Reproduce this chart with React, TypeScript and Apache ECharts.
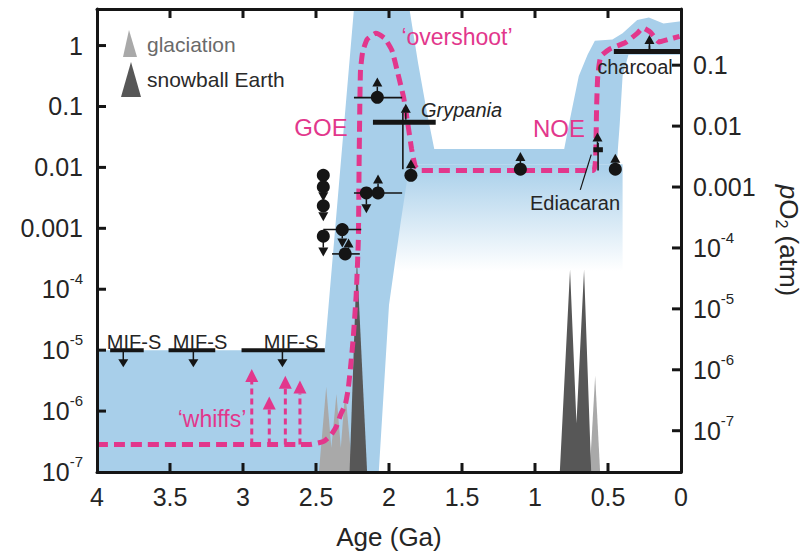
import React, { useEffect, useRef } from "react";
import * as echarts from "echarts";

// ---------- data (age in Ga, values as log10 of PAL) ----------
const AGE_TICKS = [0, 0.5, 1, 1.5, 2, 2.5, 3, 3.5, 4];
const PAL_TICKS = [-7, -6, -5, -4, -3, -2, -1, 0];
const ATM_TICKS = [-7, -6, -5, -4, -3, -2, -1];
const PAL_TO_ATM = 0.21;
const Y_MIN = -7;
const Y_MAX = 0.6;

// dashed model history
const MODEL: number[][] = [
  [4.0, -6.55], [2.55, -6.55], [2.45, -6.5], [2.40, -6.4], [2.36, -6.25], [2.33, -6.05],
  [2.30, -5.9], [2.28, -5.65], [2.26, -5.2], [2.245, -4.8], [2.225, -4.1], [2.21, -3.2],
  [2.205, -2.0], [2.20, -1.0], [2.195, -0.4], [2.18, -0.1], [2.15, 0.1], [2.09, 0.2],
  [2.03, 0.12], [1.98, -0.08], [1.94, -0.45], [1.90, -0.85], [1.87, -1.3], [1.845, -1.7],
  [1.82, -1.98], [1.79, -2.05], [0.60, -2.05], [0.585, -1.85], [0.578, -1.0],
  [0.57, -0.5], [0.55, -0.18], [0.49, -0.06], [0.38, 0.05], [0.30, 0.2], [0.26, 0.29],
  [0.21, 0.22], [0.15, 0.06], [0.09, 0.1], [0.01, 0.15],
];

// uncertainty envelope (solid part)
const BAND: number[][] = [
  [4.0, -7], [4.0, -5], [2.44, -5], [2.24, 0.6], [1.86, 0.6], [1.80, -0.3], [1.74, -1.1],
  [1.69, -1.7], [0.80, -1.7], [0.76, -1.2], [0.70, -0.5], [0.64, -0.15], [0.59, 0.08],
  [0.47, 0.1], [0.40, 0.2], [0.30, 0.42], [0.22, 0.46], [0.12, 0.36], [0, 0.4],
  [0, -0.15], [0.36, -0.15], [0.40, -0.5], [0.42, -1.3], [0.44, -1.95], [1.86, -1.95],
  [1.92, -2.9], [2.0, -4.26], [2.07, -7],
];
// envelope fading out below the mid-Proterozoic plateau
const BAND_FADE: number[][] = [[0.40, -1.95], [1.95, -1.95], [1.95, -3.7], [0.40, -3.7]];

const GLACIATION: number[][][] = [
  [[2.48, -7], [2.43, -5.6], [2.395, -6.6], [2.36, -5.72], [2.33, -6.6], [2.30, -5.66], [2.25, -7]],
  [[0.625, -7], [0.588, -5.42], [0.554, -7]],
];
const SNOWBALL: number[][][] = [
  [[2.27, -7], [2.22, -3.5], [2.15, -7]],
  [[0.83, -7], [0.76, -3.68], [0.716, -6.2], [0.664, -3.68], [0.615, -7]],
];

const WHIFF_BASE = -6.55;
const WHIFFS: number[][] = [[2.94, -5.31], [2.82, -5.76], [2.71, -5.42], [2.61, -5.5]];

const CIRCLES: number[][] = [
  [2.45, -2.13], [2.45, -2.32], [2.45, -2.63], [2.45, -3.13], [2.32, -3.02], [2.30, -3.42],
  [2.155, -2.42], [2.075, -2.42], [2.08, -0.85], [1.85, -2.13], [1.10, -2.03], [0.45, -2.03],
];
// [age, log, direction (1 up / -1 down)]
const ARROWS: number[][] = [
  [2.08, -0.6, 1], [2.075, -2.19, 1], [2.277, -3.24, 1], [1.85, -1.94, 1], [1.885, -1.03, 1],
  [1.10, -1.82, 1], [0.45, -1.85, 1], [0.572, -1.5, 1], [0.216, 0.1, 1],
  [2.45, -2.48, -1], [2.45, -2.81, -1], [2.45, -3.39, -1], [2.32, -3.24, -1], [2.155, -2.68, -1],
];
// [age from, age to, log]
const ERROR_BARS: number[][] = [
  [2.24, 1.91, -0.855], [2.45, 2.19, -3.02], [2.39, 2.20, -3.42], [2.24, 1.91, -2.42],
];
const THICK_BARS: number[][] = [[2.11, 1.68, -1.26], [0.46, 0, -0.097], [0.60, 0.535, -1.71]];
// [age, log from, log to]
const V_LINES: number[][] = [[1.905, -1.1, -2.03], [0.568, -1.6, -2.05], [0.216, 0.0, -0.097]];
const LEADER: number[][] = [[0.615, -1.79, 0.69, -2.37]];

const MIF_S_LEVEL = -5;
const MIF_S_BARS: number[][] = [[3.91, 3.68], [3.51, 3.19], [3.01, 2.44]];
const MIF_S_ARROWS: number[] = [3.82, 3.34, 2.73];

// ---------- styling ----------
const BLUE = "#a8cfea";
const MAGENTA = "#e2378c";
const INK = "#151515";
const TXT = "#252525";
const FONT = "Liberation Sans, Arial, sans-serif";

const palLabel = (v: number) => {
  const r = Math.round(v);
  if (r === 0) return "{b|1}";
  if (r === -1) return "{b|0.1}";
  if (r === -2) return "{b|0.01}";
  if (r === -3) return "{b|0.001}";
  return `{b|10}{s|${r}}`;
};
const rich = {
  b: { fontSize: 25, color: TXT, fontFamily: FONT, lineHeight: 36 },
  s: { fontSize: 15, color: TXT, fontFamily: FONT, verticalAlign: "top", lineHeight: 18 },
};

function polySeries(points: number[][], fill: any, z: number) {
  return {
    type: "custom",
    z,
    silent: true,
    clip: true,
    data: [points[0]],
    renderItem: (_p: any, api: any) => ({
      type: "polygon",
      shape: { points: points.map((p) => api.coord(p)) },
      style: { fill },
    }),
  };
}

export default function App() {
  const ref = useRef<HTMLDivElement>(null);
  useEffect(() => {
    document.body.style.margin = "0";
    const chart = echarts.init(ref.current!, null, { renderer: "svg" });
    const lg = Math.log10(PAL_TO_ATM);
    const axisLine = { show: true, onZero: false, lineStyle: { color: INK, width: 3 } };
    const tick = { show: false };

    const series: any[] = [];
    series.push(
      polySeries(BAND_FADE, new echarts.graphic.LinearGradient(0, 0, 0, 1, [
        { offset: 0, color: BLUE },
        { offset: 0.25, color: "rgba(168,207,234,0.75)" },
        { offset: 1, color: "rgba(168,207,234,0)" },
      ]), 1)
    );
    series.push(polySeries(BAND, BLUE, 2));
    GLACIATION.forEach((g) => series.push(polySeries(g, "#a9a9a9", 3)));
    SNOWBALL.forEach((g) => series.push(polySeries(g, "#575757", 4)));

    series.push({
      type: "line",
      z: 5,
      data: MODEL,
      showSymbol: false,
      smooth: 0.15,
      silent: true,
      lineStyle: { color: MAGENTA, width: 5, type: [11, 6], cap: "butt" },
    });

    series.push({
      type: "custom",
      z: 5,
      silent: true,
      data: WHIFFS,
      renderItem: (_p: any, api: any) => {
        const age = api.value(0);
        const tip = api.coord([age, api.value(1)]);
        const base = api.coord([age, WHIFF_BASE]);
        const h = 13, w = 6.5;
        return {
          type: "group",
          children: [
            { type: "line", shape: { x1: tip[0], y1: base[1], x2: tip[0], y2: tip[1] + h }, style: { stroke: MAGENTA, lineWidth: 3, lineDash: [6, 4] } },
            { type: "polygon", shape: { points: [[tip[0], tip[1]], [tip[0] - w, tip[1] + h], [tip[0] + w, tip[1] + h]] }, style: { fill: MAGENTA } },
          ],
        };
      },
    });

    // horizontal bars
    const hbar = (data: number[][], width: number, z: number) => ({
      type: "custom",
      z,
      silent: true,
      data,
      renderItem: (_p: any, api: any) => {
        const a = api.coord([api.value(0), api.value(2)]);
        const b = api.coord([api.value(1), api.value(2)]);
        return { type: "line", shape: { x1: a[0], y1: a[1], x2: b[0], y2: b[1] }, style: { stroke: INK, lineWidth: width } };
      },
    });
    series.push(hbar(ERROR_BARS, 1.6, 6));
    series.push(hbar(THICK_BARS, 5, 6));
    series.push(hbar(MIF_S_BARS.map((b) => [b[0], b[1], MIF_S_LEVEL]), 4, 6));

    series.push({
      type: "custom",
      z: 6,
      silent: true,
      data: V_LINES,
      renderItem: (_p: any, api: any) => {
        const a = api.coord([api.value(0), api.value(1)]);
        const b = api.coord([api.value(0), api.value(2)]);
        return { type: "line", shape: { x1: a[0], y1: a[1], x2: b[0], y2: b[1] }, style: { stroke: INK, lineWidth: 1.6 } };
      },
    });
    series.push({
      type: "custom",
      z: 6,
      silent: true,
      data: LEADER,
      renderItem: (_p: any, api: any) => {
        const a = api.coord([api.value(0), api.value(1)]);
        const b = api.coord([api.value(2), api.value(3)]);
        return { type: "line", shape: { x1: a[0], y1: a[1], x2: b[0], y2: b[1] }, style: { stroke: INK, lineWidth: 1.2 } };
      },
    });

    // MIF-S down arrows
    series.push({
      type: "custom",
      z: 6,
      silent: true,
      data: MIF_S_ARROWS.map((a) => [a, MIF_S_LEVEL]),
      renderItem: (_p: any, api: any) => {
        const p = api.coord([api.value(0), api.value(1)]);
        return {
          type: "group",
          children: [
            { type: "line", shape: { x1: p[0], y1: p[1], x2: p[0], y2: p[1] + 10 }, style: { stroke: INK, lineWidth: 1.5 } },
            { type: "polygon", shape: { points: [[p[0] - 5, p[1] + 9], [p[0] + 5, p[1] + 9], [p[0], p[1] + 17]] }, style: { fill: INK } },
          ],
        };
      },
    });

    // data arrows
    series.push({
      type: "custom",
      z: 7,
      silent: true,
      data: ARROWS,
      renderItem: (_p: any, api: any) => {
        const p = api.coord([api.value(0), api.value(1)]);
        const d = api.value(2);
        const tipY = p[1] - d * 4.5;
        const baseY = p[1] + d * 4.5;
        return {
          type: "group",
          children: [
            { type: "line", shape: { x1: p[0], y1: baseY, x2: p[0], y2: baseY + d * 7 }, style: { stroke: INK, lineWidth: 1.5 } },
            { type: "polygon", shape: { points: [[p[0], tipY], [p[0] - 5, baseY], [p[0] + 5, baseY]] }, style: { fill: INK } },
          ],
        };
      },
    });

    series.push({
      type: "scatter",
      z: 8,
      silent: true,
      data: CIRCLES,
      symbol: "circle",
      symbolSize: 13,
      itemStyle: { color: INK, opacity: 1 },
    });

    // inward axis ticks on all four sides: [age, log, side]
    const tickItems: number[][] = [];
    AGE_TICKS.filter((a) => a > 0 && a < 4).forEach((a) => {
      tickItems.push([a, Y_MIN, 0]);
      tickItems.push([a, Y_MAX, 1]);
    });
    PAL_TICKS.filter((v) => v > Y_MIN).forEach((v) => tickItems.push([4, v, 2]));
    ATM_TICKS.forEach((v) => tickItems.push([0, v - lg, 3]));
    series.push({
      type: "custom",
      z: 30,
      silent: true,
      clip: false,
      data: tickItems,
      renderItem: (_p: any, api: any) => {
        const p = api.coord([api.value(0), api.value(1)]);
        const s = api.value(2);
        const L = 9;
        const d = s === 0 ? [0, -L] : s === 1 ? [0, L] : s === 2 ? [L, 0] : [-L, 0];
        return { type: "line", shape: { x1: p[0], y1: p[1], x2: p[0] + d[0], y2: p[1] + d[1] }, style: { stroke: INK, lineWidth: 3 } };
      },
    });

    const txt = (text: string, x: number, y: number, size: number, fill: string, align = "center", extra: any = {}) => ({
      type: "text",
      x,
      y,
      z: 100,
      style: { text, fontSize: size, fill, fontFamily: FONT, align, verticalAlign: "middle", ...extra },
    });

    chart.setOption({
      animation: false,
      backgroundColor: "#ffffff",
      grid: { left: 97, right: 122, top: 9, bottom: 76, containLabel: false },
      xAxis: [
        {
          type: "value", min: 0, max: 4, interval: 0.5, inverse: true, position: "bottom", z: 20,
          axisLine, axisTick: tick, splitLine: { show: false },
          axisLabel: {
            fontSize: 25, color: TXT, fontFamily: FONT, margin: 12,
            formatter: (v: number) => (AGE_TICKS.includes(v) ? String(v) : ""),
          },
          name: "Age (Ga)", nameLocation: "middle", nameGap: 52,
          nameTextStyle: { fontSize: 26, color: TXT, fontFamily: FONT },
        },
        {
          type: "value", min: 0, max: 4, interval: 0.5, inverse: true, position: "top", z: 20,
          axisLine, axisTick: tick, axisLabel: { show: false }, splitLine: { show: false },
        },
      ],
      yAxis: [
        {
          type: "value", min: Y_MIN, max: Y_MAX, position: "left", z: 20,
          axisLine, splitLine: { show: false }, axisTick: tick,
          axisLabel: { customValues: PAL_TICKS, margin: 14, formatter: palLabel, rich },
        },
        {
          type: "value", min: Y_MIN + lg, max: Y_MAX + lg, position: "right", z: 20,
          axisLine, splitLine: { show: false }, axisTick: tick,
          axisLabel: { customValues: ATM_TICKS, margin: 12, formatter: palLabel, rich },
          name: "{i|p}{n|O}{u|2}{n| (atm)}", nameLocation: "middle", nameRotate: -90, nameGap: 92,
          nameTextStyle: {
            rich: {
              i: { fontSize: 26, fontStyle: "italic", color: TXT, fontFamily: FONT, lineHeight: 32 },
              n: { fontSize: 26, color: TXT, fontFamily: FONT, lineHeight: 32 },
              u: { fontSize: 16, color: TXT, fontFamily: FONT, verticalAlign: "bottom", lineHeight: 20 },
            },
          },
        },
      ],
      graphic: [
        { type: "polygon", z: 100, shape: { points: [[129, 30], [123, 57], [137, 57]] }, style: { fill: "#a9a9a9" } },
        { type: "polygon", z: 100, shape: { points: [[131, 62], [121, 97], [141, 97]] }, style: { fill: "#575757" } },
        txt("glaciation", 147, 44, 21, "#6a6a6a", "left"),
        txt("snowball Earth", 147, 79, 21, "#2a2a2a", "left"),
        txt("GOE", 321, 127, 24, MAGENTA),
        txt("NOE", 559, 128, 24, MAGENTA),
        txt("\u2018overshoot\u2019", 457, 37, 23, MAGENTA),
        txt("\u2018whiffs\u2019", 212, 419, 23, MAGENTA),
        txt("Grypania", 421, 110, 20, TXT, "left", { fontStyle: "italic" }),
        txt("Ediacaran", 575, 203, 20, TXT),
        txt("charcoal", 635, 67, 20, TXT),
        txt("MIF-S", 134, 342, 20, TXT),
        txt("MIF-S", 200, 342, 20, TXT),
        txt("MIF-S", 291, 342, 20, TXT),
      ],
      series,
    });
    return () => chart.dispose();
  }, []);
  return <div ref={ref} style={{ width: 810, height: 555 }} />;
}
